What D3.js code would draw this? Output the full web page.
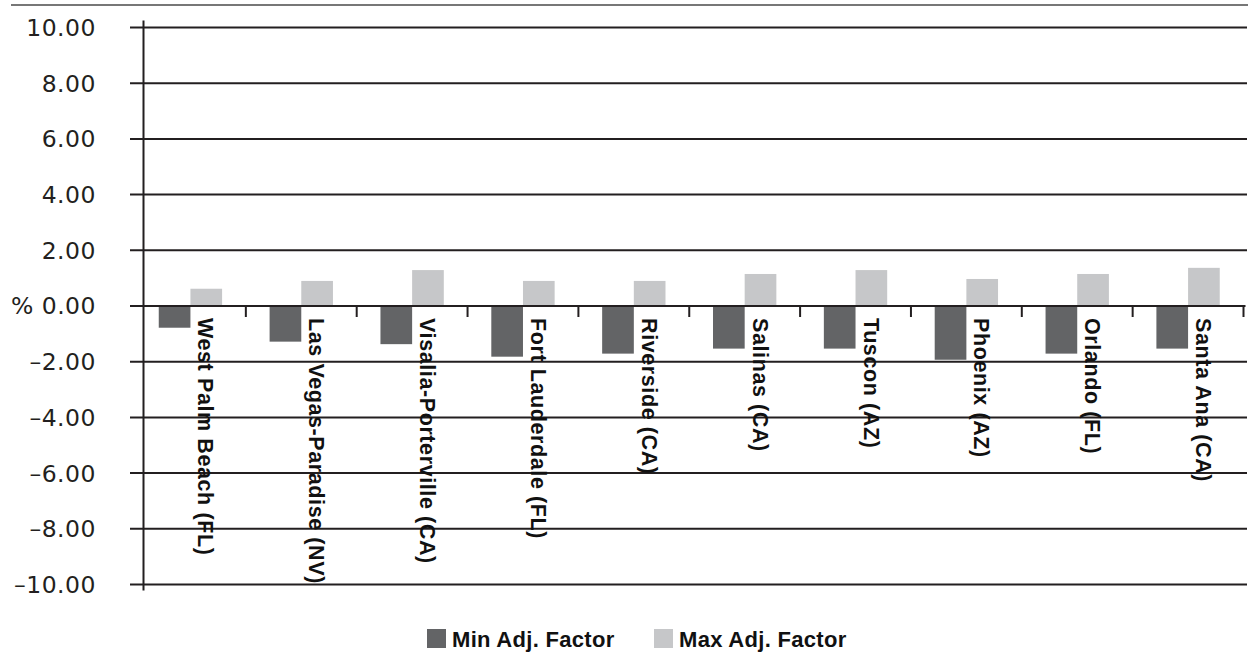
<!DOCTYPE html>
<html>
<head>
<meta charset="utf-8">
<script src="https://cdn.jsdelivr.net/npm/d3@7"></script>
<style>
  html, body { margin: 0; padding: 0; background: #fff; }
  svg { display: block; }
</style>
</head>
<body>
<svg id="chart" width="1248" height="663"></svg>
<script>
// Metro areas and their adjustment factor range (%)
const categories = [
  "West Palm Beach (FL)", "Las Vegas-Paradise (NV)", "Visalia-Porterville (CA)",
  "Fort Lauderdale (FL)", "Riverside (CA)", "Salinas (CA)", "Tuscon (AZ)",
  "Phoenix (AZ)", "Orlando (FL)", "Santa Ana (CA)"
];
const minAdj = [-0.78, -1.28, -1.37, -1.82, -1.71, -1.53, -1.53, -1.93, -1.71, -1.53];
const maxAdj = [0.62, 0.90, 1.29, 0.90, 0.90, 1.15, 1.29, 0.97, 1.15, 1.37];
const seriesNames = ["Min Adj. Factor", "Max Adj. Factor"];
const seriesColors = ["#636466", "#c6c7c9"];
const yTicks = [10, 8, 6, 4, 2, 0, -2, -4, -6, -8, -10];

const svg = d3.select("#chart");
const ink = "#231f20";

const y = d3.scaleLinear().domain([-10, 10]).range([584.5, 27.5]);
const x = d3.scaleBand().domain(categories).range([135, 1243.5]);
const inner = d3.scaleBand().domain(seriesNames)
  .range([0, x.bandwidth()]).paddingInner(0).paddingOuter(0.75);

const axisX = 143.5;

// top rule
svg.append("line")
  .attr("x1", 11).attr("x2", 1248).attr("y1", 5).attr("y2", 5)
  .attr("stroke", "#4a4a4a").attr("stroke-width", 1.4);

// horizontal gridlines with outward ticks
svg.append("g").selectAll("line").data(yTicks.filter(d => d !== 0)).join("line")
  .attr("x1", 130).attr("x2", 1247)
  .attr("y1", d => y(d)).attr("y2", d => y(d))
  .attr("stroke", ink).attr("stroke-width", 2);

// y tick labels
const fmt = d => {
  const s = Math.abs(d).toFixed(2);
  if (d === 0) return "% " + s;
  return (d < 0 ? "\u2013" : "") + s;
};
svg.append("g").selectAll("text").data(yTicks).join("text")
  .attr("x", 96).attr("y", d => y(d))
  .attr("dy", "0.36em")
  .attr("text-anchor", "end")
  .attr("font-family", "DejaVu Sans, sans-serif")
  .attr("font-size", 23.5)
  .attr("letter-spacing", 0.5)
  .attr("fill", ink)
  .text(fmt);

// bars
const groups = svg.append("g").selectAll("g").data(categories).join("g")
  .attr("transform", d => `translate(${x(d)},0)`);
groups.append("rect")
  .attr("x", inner(seriesNames[0]))
  .attr("width", inner.bandwidth())
  .attr("y", (d, i) => y(0))
  .attr("height", (d, i) => y(minAdj[i]) - y(0))
  .attr("fill", seriesColors[0]);
groups.append("rect")
  .attr("x", inner(seriesNames[1]))
  .attr("width", inner.bandwidth())
  .attr("y", (d, i) => y(maxAdj[i]))
  .attr("height", (d, i) => y(0) - y(maxAdj[i]))
  .attr("fill", seriesColors[1]);

// category labels, rotated to read downward
svg.append("g").selectAll("text").data(categories).join("text")
  .attr("transform", d => `translate(${x(d) + x.bandwidth() / 2 + 8},${y(0) + 12}) rotate(90)`)
  .attr("font-family", "Liberation Sans, Arial, sans-serif")
  .attr("font-weight", "bold")
  .attr("font-size", 21.5)
  .attr("letter-spacing", 0.6)
  .attr("fill", "#111")
  .text(d => d);

// zero axis line with category separator ticks
svg.append("line")
  .attr("x1", 130).attr("x2", 1245.5)
  .attr("y1", y(0)).attr("y2", y(0))
  .attr("stroke", ink).attr("stroke-width", 2);
const bounds = categories.slice(1).map(c => x(c)).concat([x.range()[1]]);
svg.append("g").selectAll("line").data(bounds).join("line")
  .attr("x1", d => d).attr("x2", d => d)
  .attr("y1", y(0)).attr("y2", y(0) + 11)
  .attr("stroke", ink).attr("stroke-width", 2);

// vertical value axis
svg.append("line")
  .attr("x1", axisX).attr("x2", axisX)
  .attr("y1", y(10) - 7).attr("y2", y(-10) + 6)
  .attr("stroke", ink).attr("stroke-width", 2);

// legend
const legendItems = [
  { name: seriesNames[0], color: seriesColors[0], x: 427 },
  { name: seriesNames[1], color: seriesColors[1], x: 654 }
];
const lg = svg.append("g").selectAll("g").data(legendItems).join("g")
  .attr("transform", d => `translate(${d.x},629)`);
lg.append("rect").attr("width", 19).attr("height", 19).attr("fill", d => d.color);
lg.append("text")
  .attr("x", 25).attr("y", 18)
  .attr("font-family", "Liberation Sans, Arial, sans-serif")
  .attr("font-weight", "bold")
  .attr("font-size", 22)
  .attr("letter-spacing", 0.3)
  .attr("fill", "#111")
  .text(d => d.name);
</script>
</body>
</html>
